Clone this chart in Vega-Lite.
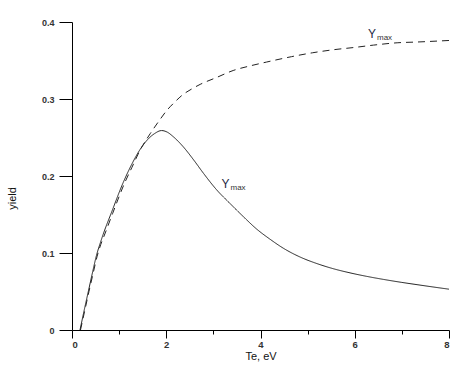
{
  "$schema": "https://vega.github.io/schema/vega-lite/v6.json",
  "width": 377,
  "height": 308,
  "autosize": "none",
  "padding": {"left": 72, "top": 22, "right": 6, "bottom": 40},
  "background": "white",
  "config": {
    "view": {"stroke": null},
    "font": "Liberation Sans",
    "axis": {
      "grid": false,
      "domainColor": "#000",
      "tickColor": "#000",
      "domainWidth": 1,
      "tickWidth": 1,
      "labelFont": "Liberation Sans",
      "labelColor": "#333",
      "labelFontWeight": "bold",
      "titleFont": "Liberation Sans",
      "titleFontWeight": "normal",
      "titleColor": "#111"
    }
  },
  "datasets": {
    "curves": [
      {"te": 0.17, "yield": 0.0, "curve": "solid"},
      {"te": 0.26, "yield": 0.026, "curve": "solid"},
      {"te": 0.35, "yield": 0.051, "curve": "solid"},
      {"te": 0.44, "yield": 0.076, "curve": "solid"},
      {"te": 0.52, "yield": 0.097, "curve": "solid"},
      {"te": 0.6, "yield": 0.113, "curve": "solid"},
      {"te": 0.66, "yield": 0.124, "curve": "solid"},
      {"te": 0.84, "yield": 0.153, "curve": "solid"},
      {"te": 1.09, "yield": 0.192, "curve": "solid"},
      {"te": 1.25, "yield": 0.213, "curve": "solid"},
      {"te": 1.44, "yield": 0.234, "curve": "solid"},
      {"te": 1.6, "yield": 0.247, "curve": "solid"},
      {"te": 1.75, "yield": 0.255, "curve": "solid"},
      {"te": 1.9, "yield": 0.259, "curve": "solid"},
      {"te": 2.02, "yield": 0.257, "curve": "solid"},
      {"te": 2.15, "yield": 0.251, "curve": "solid"},
      {"te": 2.36, "yield": 0.238, "curve": "solid"},
      {"te": 2.58, "yield": 0.221, "curve": "solid"},
      {"te": 2.79, "yield": 0.2035, "curve": "solid"},
      {"te": 3.07, "yield": 0.182, "curve": "solid"},
      {"te": 3.35, "yield": 0.1645, "curve": "solid"},
      {"te": 3.64, "yield": 0.147, "curve": "solid"},
      {"te": 3.92, "yield": 0.131, "curve": "solid"},
      {"te": 4.2, "yield": 0.118, "curve": "solid"},
      {"te": 4.49, "yield": 0.106, "curve": "solid"},
      {"te": 4.85, "yield": 0.0945, "curve": "solid"},
      {"te": 5.2, "yield": 0.0862, "curve": "solid"},
      {"te": 5.55, "yield": 0.0795, "curve": "solid"},
      {"te": 5.9, "yield": 0.0742, "curve": "solid"},
      {"te": 6.25, "yield": 0.0697, "curve": "solid"},
      {"te": 6.61, "yield": 0.0657, "curve": "solid"},
      {"te": 7.0, "yield": 0.0618, "curve": "solid"},
      {"te": 7.32, "yield": 0.0589, "curve": "solid"},
      {"te": 7.66, "yield": 0.0559, "curve": "solid"},
      {"te": 8.0, "yield": 0.053, "curve": "solid"},
      {"te": 0.18, "yield": 0.0, "curve": "dashed"},
      {"te": 0.27, "yield": 0.025, "curve": "dashed"},
      {"te": 0.36, "yield": 0.05, "curve": "dashed"},
      {"te": 0.45, "yield": 0.074, "curve": "dashed"},
      {"te": 0.53, "yield": 0.095, "curve": "dashed"},
      {"te": 0.61, "yield": 0.111, "curve": "dashed"},
      {"te": 0.68, "yield": 0.122, "curve": "dashed"},
      {"te": 0.86, "yield": 0.151, "curve": "dashed"},
      {"te": 1.11, "yield": 0.19, "curve": "dashed"},
      {"te": 1.27, "yield": 0.211, "curve": "dashed"},
      {"te": 1.44, "yield": 0.233, "curve": "dashed"},
      {"te": 1.66, "yield": 0.255, "curve": "dashed"},
      {"te": 1.84, "yield": 0.271, "curve": "dashed"},
      {"te": 2.01, "yield": 0.285, "curve": "dashed"},
      {"te": 2.18, "yield": 0.296, "curve": "dashed"},
      {"te": 2.36, "yield": 0.306, "curve": "dashed"},
      {"te": 2.54, "yield": 0.313, "curve": "dashed"},
      {"te": 2.72, "yield": 0.319, "curve": "dashed"},
      {"te": 3.07, "yield": 0.328, "curve": "dashed"},
      {"te": 3.42, "yield": 0.337, "curve": "dashed"},
      {"te": 3.78, "yield": 0.343, "curve": "dashed"},
      {"te": 4.13, "yield": 0.348, "curve": "dashed"},
      {"te": 4.66, "yield": 0.355, "curve": "dashed"},
      {"te": 5.1, "yield": 0.36, "curve": "dashed"},
      {"te": 5.55, "yield": 0.364, "curve": "dashed"},
      {"te": 6.0, "yield": 0.367, "curve": "dashed"},
      {"te": 6.4, "yield": 0.37, "curve": "dashed"},
      {"te": 6.9, "yield": 0.373, "curve": "dashed"},
      {"te": 7.32, "yield": 0.374, "curve": "dashed"},
      {"te": 8.0, "yield": 0.376, "curve": "dashed"}
    ],
    "labels": [
      {"te": 6.366, "yield": 0.3848, "main": "Y", "sub": "max"},
      {"te": 3.257, "yield": 0.1896, "main": "Y", "sub": "max"}
    ]
  },
  "layer": [
    {
      "data": {"name": "curves"},
      "mark": {"type": "line", "interpolate": "monotone", "strokeWidth": 1, "color": "#222"},
      "encoding": {
        "x": {
          "field": "te", "type": "quantitative",
          "scale": {"domain": [0, 8], "nice": false, "zero": false},
          "axis": {
            "title": "Te, eV",
            "titleFontSize": 11,
            "titlePadding": 2,
            "values": [0, 1, 2, 3, 4, 5, 6, 7, 8],
            "labelExpr": "datum.value % 2 == 0 ? datum.label : ''",
            "labelFontSize": 9.5,
            "labelPadding": 1,
            "tickSize": {"condition": {"test": "datum.value % 2 == 0", "value": 8}, "value": 4}
          }
        },
        "y": {
          "field": "yield", "type": "quantitative",
          "scale": {"domain": [0, 0.4], "nice": false},
          "axis": {
            "title": "yield",
            "titleFontSize": 11,
            "titleX": -55,
            "titleY": 176,
            "values": [0, 0.05, 0.1, 0.15, 0.2, 0.25, 0.3, 0.35, 0.4],
            "labelExpr": "abs(datum.value * 10 - round(datum.value * 10)) < 0.001 ? format(datum.value, '~g') : ''",
            "labelFontSize": 9,
            "labelPadding": 5,
            "tickSize": {"condition": {"test": "abs(datum.value * 10 - round(datum.value * 10)) < 0.001", "value": 13}, "value": 7}
          }
        },
        "detail": {"field": "curve"},
        "strokeDash": {
          "field": "curve", "type": "nominal",
          "scale": {"domain": ["solid", "dashed"], "range": [[1, 0], [7, 5]]},
          "legend": null
        }
      }
    },
    {
      "data": {"name": "labels"},
      "mark": {"type": "text", "align": "center", "baseline": "middle", "fontSize": 12, "color": "#1f2a44"},
      "encoding": {
        "x": {"field": "te", "type": "quantitative"},
        "y": {"field": "yield", "type": "quantitative"},
        "text": {"field": "main"}
      }
    },
    {
      "data": {"name": "labels"},
      "mark": {"type": "text", "align": "left", "baseline": "middle", "fontSize": 8, "dx": 5, "dy": 4, "color": "#333"},
      "encoding": {
        "x": {"field": "te", "type": "quantitative"},
        "y": {"field": "yield", "type": "quantitative"},
        "text": {"field": "sub"}
      }
    }
  ]
}
